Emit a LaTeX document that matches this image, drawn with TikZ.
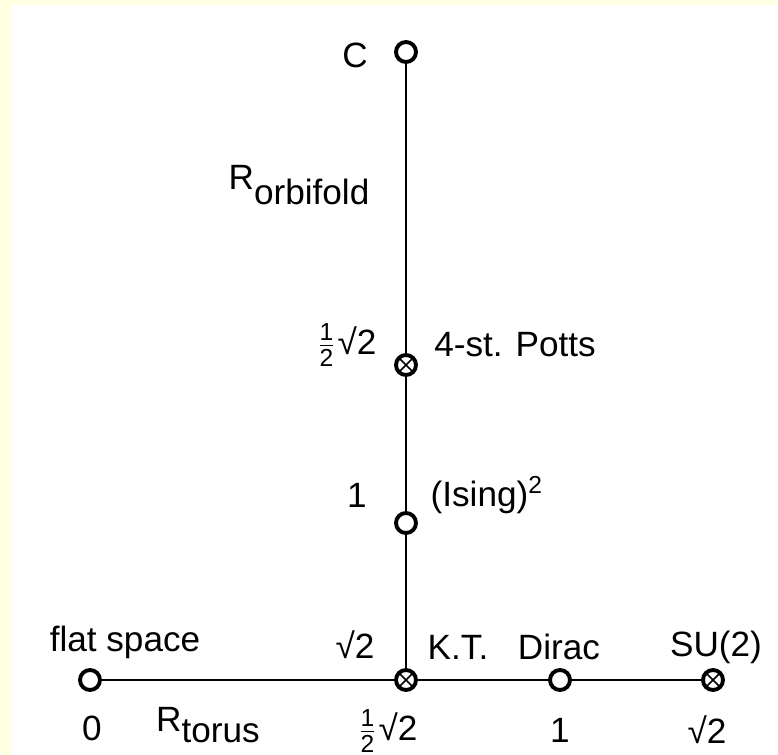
\documentclass[tikz,border=0pt]{standalone}
\usepackage{amsmath}
\usepackage{fontspec}
\setmainfont{Liberation Sans}
\usepackage{tikz}
\usetikzlibrary{positioning}
\definecolor{pagebg}{RGB}{255, 255, 225}
\newcommand{\halfroot}{$\tfrac{\text{1}}{\text{2}}$√2}

\begin{document}
\begin{tikzpicture}[
    vtx/.style={circle, draw, line width=1.1pt, fill=white,
                minimum size=0.2cm, inner sep=0pt},
    xvtx/.style={vtx, path picture={
        \draw[line width=0.45pt]
          (path picture bounding box.north west) -- (path picture bounding box.south east)
          (path picture bounding box.north east) -- (path picture bounding box.south west);}},
    lbl/.style={inner sep=0pt},
    branch/.style={line width=0.7pt}
  ]
  % Frame
  \useasboundingbox (0, 0) rectangle (7.78, 7.55);
  \fill[pagebg] (0, 0) rectangle (7.78, 7.55);
  \fill[white] (0.12, 0) rectangle (7.78, 7.50);

  % Points of the moduli space
  \node[vtx]  (c)     at (4.06, 7.03) {};
  \node[xvtx] (potts) at (4.06, 3.90) {};
  \node[vtx]  (ising) at (4.06, 2.32) {};
  \node[xvtx] (kt)    at (4.06, 0.75) {};
  \node[vtx]  (flat)  at (0.90, 0.75) {};
  \node[vtx]  (dirac) at (5.60, 0.75) {};
  \node[xvtx] (su2)   at (7.13, 0.75) {};

  % Orbifold and torus lines
  \draw[branch] (c) -- (potts) -- (ising) -- (kt);
  \draw[branch] (flat) -- (kt) -- (dirac) -- (su2);

  % Orbifold labels
  \node[lbl] (lc)    at (3.55, 7.00) {C};
  \node[lbl] (lorb)  at (2.99, 5.70) {R\lower4.5pt\hbox{orbifold}};
  \node[lbl] (lpv)   at (3.46, 4.10) {\halfroot};
  \node[lbl] (lpotts) at (5.15, 4.10) {4-st. Potts};
  \node[lbl] (liv)   at (3.57, 2.60) {1};
  \node[lbl, anchor=west] (lising) at (4.30, 2.60) {(Ising)$^{\text{2}}$};

  % Torus labels, above
  \node[lbl] (lflat)  at (1.25, 1.13) {flat space};
  \node[lbl] (lktv)   at (3.55, 1.10) {√2};
  \node[lbl] (lkt)    at (4.58, 1.08) {K.T.};
  \node[lbl] (ldirac) at (5.59, 1.08) {Dirac};
  \node[lbl] (lsu)    at (7.16, 1.08) {SU(2)};

  % Torus labels, below
  \node[lbl] (lzero)  at (0.92, 0.27) {0};
  \node[lbl] (ltorus) at (2.08, 0.30) {R\lower3pt\hbox{torus}};
  \node[lbl] (lkth)   at (3.87, 0.24) {\halfroot};
  \node[lbl] (ldv)    at (5.60, 0.25) {1};
  \node[lbl] (lsv)    at (7.07, 0.25) {√2};
\end{tikzpicture}
\end{document}
